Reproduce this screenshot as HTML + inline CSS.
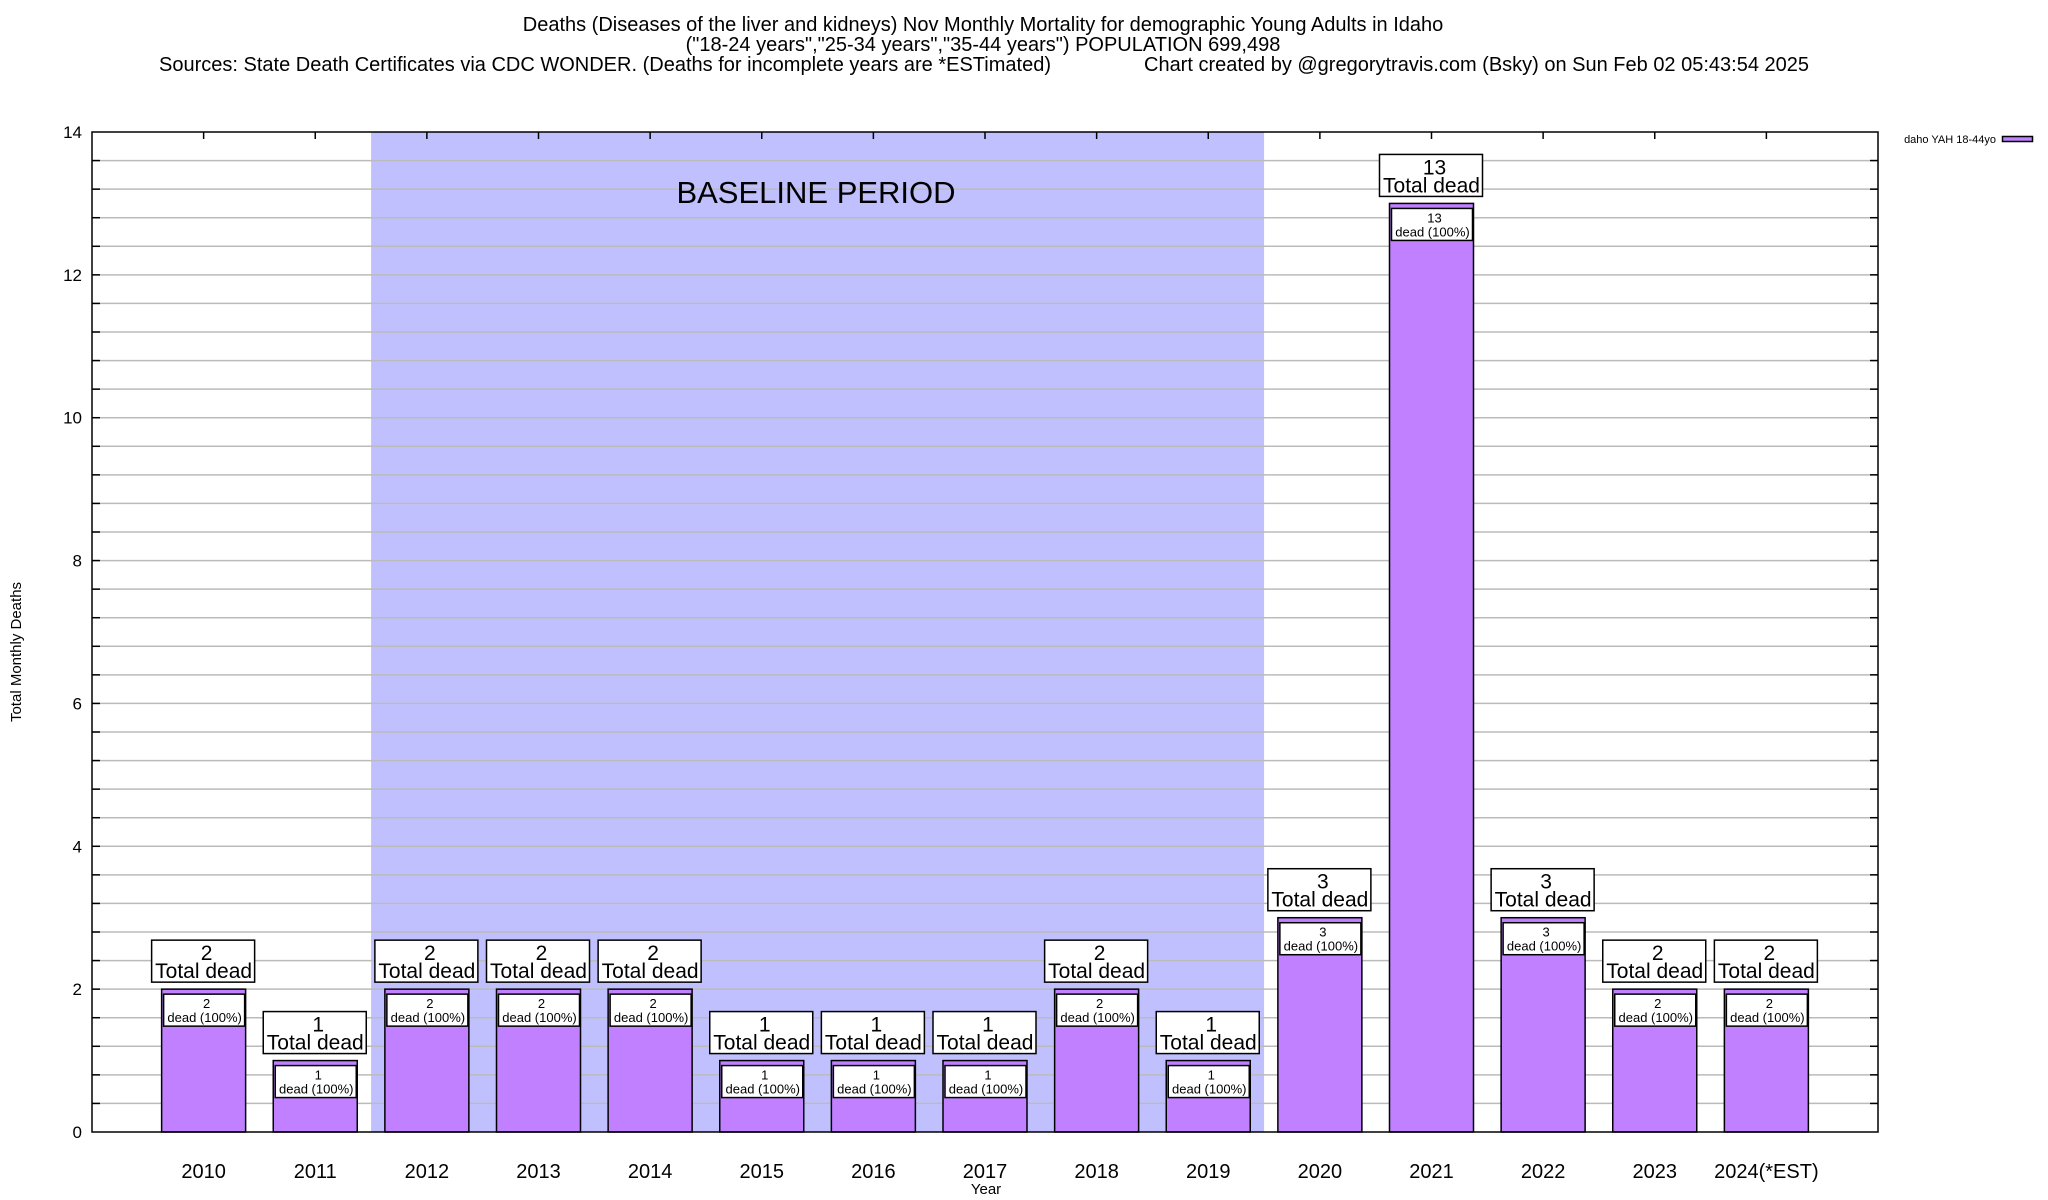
<!DOCTYPE html>
<html><head><meta charset="utf-8"><style>
html,body{margin:0;padding:0;background:#fff}
svg{display:block;font-family:"Liberation Sans",Arial,sans-serif}
</style></head><body>
<svg id="chart" width="2048" height="1200" viewBox="0 0 2048 1200" xmlns="http://www.w3.org/2000/svg">
<g font-size="20" fill="#000">
<text x="983" y="31" text-anchor="middle">Deaths (Diseases of the liver and kidneys) Nov Monthly Mortality for demographic Young Adults in Idaho</text>
<text x="983" y="51" text-anchor="middle">("18-24 years","25-34 years","35-44 years") POPULATION 699,498</text>
<text x="159" y="71" textLength="892" lengthAdjust="spacingAndGlyphs">Sources: State Death Certificates via CDC WONDER. (Deaths for incomplete years are *ESTimated)</text>
<text x="1144" y="71" textLength="665" lengthAdjust="spacingAndGlyphs">Chart created by @gregorytravis.com (Bsky) on Sun Feb 02 05:43:54 2025</text>
</g>
<g id="plot"></g>
<text x="21" y="652" font-size="15" text-anchor="middle" transform="rotate(-90 21 652)">Total Monthly Deaths</text>
<text x="986" y="1194" font-size="15" text-anchor="middle">Year</text>
<g>
<text x="1996" y="143" font-size="11" text-anchor="end">daho YAH 18-44yo</text>
<rect x="2002.5" y="136.5" width="30" height="5" fill="#c080ff" stroke="#000" stroke-width="1.5"/>
</g>
</svg>
<script>
const categories = ["2010","2011","2012","2013","2014","2015","2016","2017","2018","2019","2020","2021","2022","2023","2024(*EST)"];
const deaths = [2,1,2,2,2,1,1,1,2,1,3,13,3,2,2];
const yTicks = [0,2,4,6,8,10,12,14];
const baselineRange = [2012, 2019];

const NS = "http://www.w3.org/2000/svg";
const L = 92, R = 1878, T = 132, B = 1132, YMAX = 14;
const step = (R - L) / (categories.length + 1);
const xs = i => L + (i + 1) * step;
const ys = v => B - v / YMAX * (B - T);
const plot = document.getElementById('plot');
function mk(tag, attrs, parent) {
  const e = document.createElementNS(NS, tag);
  for (const k in attrs) e.setAttribute(k, attrs[k]);
  (parent || plot).appendChild(e);
  return e;
}
const i0 = categories.indexOf(String(baselineRange[0])), i1 = categories.indexOf(String(baselineRange[1]));
const sh = mk('rect', {x: xs(i0) - step / 2, y: T, width: (i1 - i0 + 1) * step, height: B - T, fill: '#c0c0ff'});


for (let v = 0.4; v < YMAX - 0.01; v += 0.4) {
  const y = ys(v);
  const g = mk('line', {x1: L, x2: R, y1: y, y2: y, stroke: '#bbb', 'stroke-width': 1.5});
  
  
  mk('line', {x1: L, x2: L + 8, y1: y, y2: y, stroke: '#000', 'stroke-width': 1.5});
  mk('line', {x1: R - 8, x2: R, y1: y, y2: y, stroke: '#000', 'stroke-width': 1.5});
}
const bt = mk('text', {x: 816, y: 203, 'font-size': 31, 'text-anchor': 'middle'});
bt.textContent = 'BASELINE PERIOD';


yTicks.forEach(v => {
  const t = mk('text', {x: L - 10, y: ys(v) + 6, 'font-size': 17, 'text-anchor': 'end'});
  t.textContent = v;
  
  
});
categories.forEach((c, i) => {
  const cx = xs(i), v = deaths[i], top = ys(v);
  const b = mk('rect', {x: cx - 42, y: top, width: 84, height: B - top, fill: '#c080ff', stroke: '#000', 'stroke-width': 1.5});
  
  
  const ib = mk('rect', {x: cx - 40, y: top + 5, width: 81, height: 32, fill: '#fff', stroke: '#000', 'stroke-width': 1.5});
  
  
  const t1 = mk('text', {x: cx + 3, y: top + 19, 'font-size': 13, 'text-anchor': 'middle'});
  t1.textContent = v;
  
  
  const t2 = mk('text', {x: cx + 1, y: top + 33, 'font-size': 13, 'text-anchor': 'middle'});
  t2.textContent = 'dead (100%)';
  
  
  const ob = mk('rect', {x: cx - 52, y: top - 49, width: 103, height: 42, fill: '#fff', stroke: '#000', 'stroke-width': 1.5});
  
  
  const t3 = mk('text', {x: cx + 3, y: top - 29, 'font-size': 21, 'text-anchor': 'middle'});
  t3.textContent = v;
  
  
  const t4 = mk('text', {x: cx, y: top - 11, 'font-size': 21, 'text-anchor': 'middle'});
  t4.textContent = 'Total dead';
  
  
  mk('line', {x1: cx, x2: cx, y1: T, y2: T + 7, stroke: '#000', 'stroke-width': 1.5});
  const xl = mk('text', {x: cx, y: 1178, 'font-size': 20, 'text-anchor': 'middle'});
  xl.textContent = c;
  
  
});
const fr = mk('rect', {x: L, y: T, width: R - L, height: B - T, fill: 'none', stroke: '#000', 'stroke-width': 1.5});


</script>
</body></html>
